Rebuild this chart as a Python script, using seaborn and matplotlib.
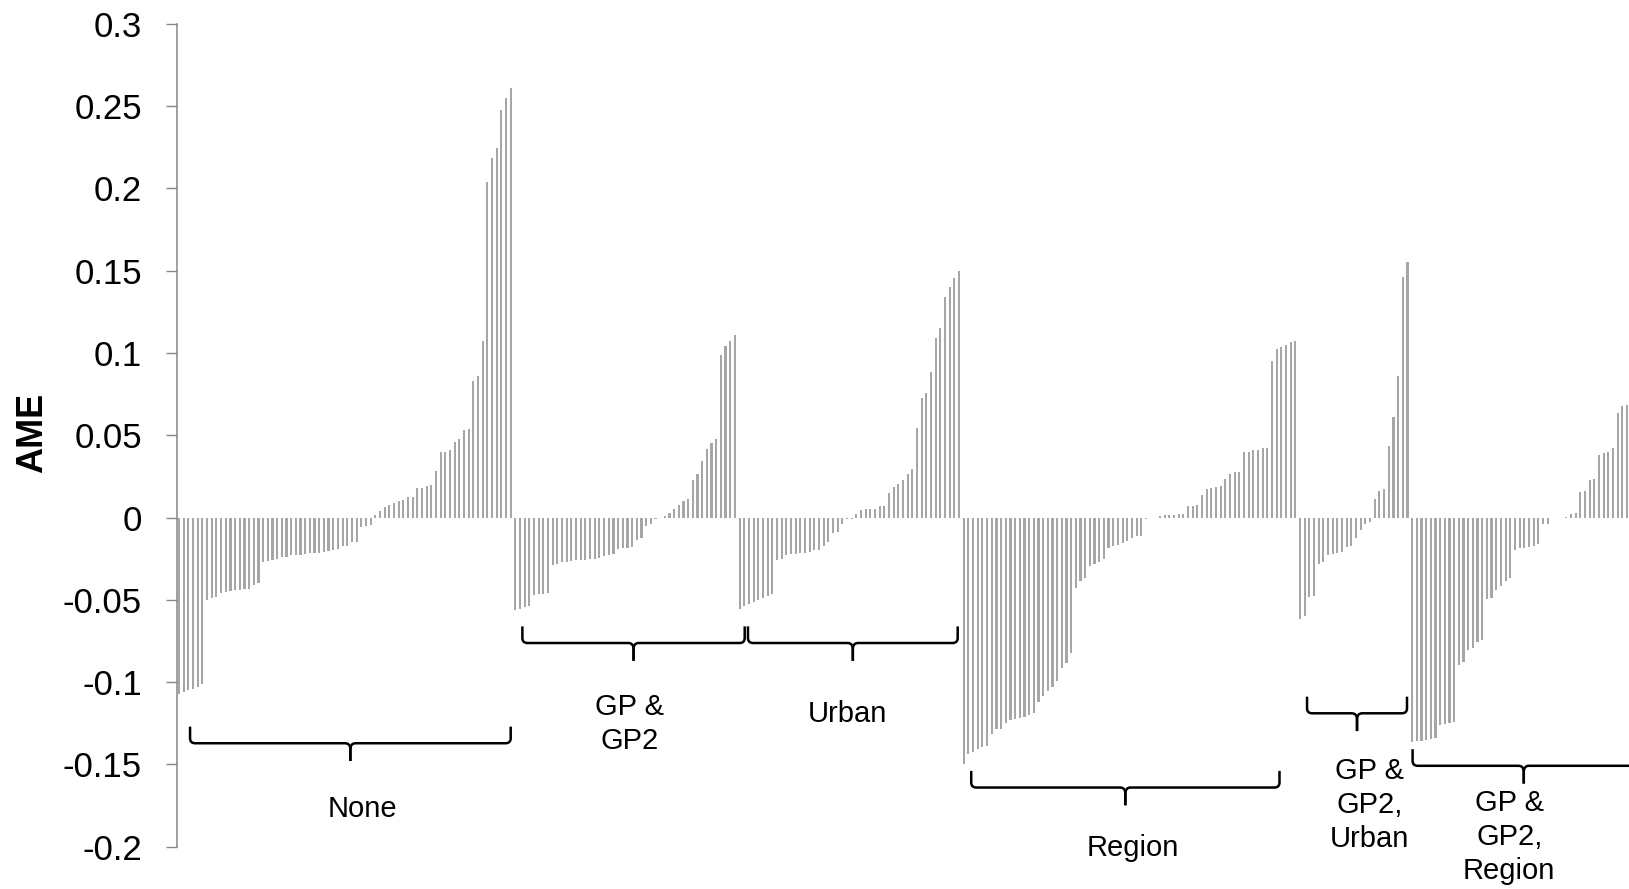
import numpy as np
import pandas as pd
import matplotlib
matplotlib.use("Agg")
import matplotlib.pyplot as plt
from matplotlib.path import Path
from matplotlib.patches import PathPatch
import seaborn as sns

# ---------------- data ----------------
group_names = ["None", "GP &\nGP2", "Urban", "Region", "GP &\nGP2,\nUrban", "GP &\nGP2,\nRegion"]

none_vals = [-0.107, -0.1057, -0.105, -0.104, -0.103, -0.101,
             -0.050, -0.049, -0.048, -0.046, -0.045, -0.0445, -0.044, -0.0437, -0.0435, -0.0433, -0.041, -0.040,
             -0.027, -0.0265, -0.026, -0.025, -0.024, -0.0238, -0.023, -0.0228, -0.0225, -0.022, -0.0218,
             -0.0216, -0.0214, -0.021, -0.020, -0.0196, -0.019,
             -0.017, -0.017, -0.0147, -0.0147, -0.006, -0.005, -0.0048,
             0.0017, 0.004, 0.0065, 0.0076, 0.009, 0.010, 0.0104, 0.0124, 0.0124, 0.018, 0.018, 0.019, 0.020,
             0.0286, 0.040, 0.040, 0.041, 0.046, 0.0475, 0.053, 0.054, 0.083, 0.086, 0.1075, 0.204, 0.2185,
             0.2246, 0.2476, 0.255, 0.261]

gp_vals = [-0.0563, -0.0557, -0.0543, -0.054, -0.047, -0.0466, -0.0462, -0.0458,
           -0.0288, -0.0284, -0.0271, -0.0267, -0.0263, -0.026, -0.0257, -0.0255, -0.0253, -0.025, -0.0243,
           -0.0235, -0.023, -0.022, -0.019, -0.0186, -0.0182, -0.0176, -0.0134, -0.0122, -0.0049, -0.0038,
           -0.001, -0.0004, 0.0012, 0.0026, 0.0053, 0.0077, 0.0099, 0.0113, 0.023, 0.0267, 0.0344, 0.0415,
           0.0456, 0.0478, 0.099, 0.104, 0.1075, 0.111]

urban_vals = [-0.0557, -0.0537, -0.0522, -0.051, -0.0502, -0.0486, -0.0476, -0.0466,
              -0.0255, -0.0251, -0.0227, -0.0223, -0.0219, -0.0215, -0.0213, -0.0209, -0.0198, -0.0194,
              -0.0172, -0.0148, -0.0091, -0.0087, -0.0036, -0.0006, -0.0006, 0.002, 0.0049, 0.0053, 0.0053,
              0.0053, 0.0069, 0.0071, 0.0148, 0.0186, 0.0207, 0.0231, 0.0267, 0.0294, 0.0543, 0.0725, 0.0755,
              0.0883, 0.1094, 0.1154, 0.134, 0.140, 0.1458, 0.150]

region_vals = [-0.1495, -0.1438, -0.1424, -0.1407, -0.1393, -0.1389, -0.1316, -0.1286, -0.1284, -0.1247,
               -0.1231, -0.1221, -0.1215, -0.1209, -0.1201, -0.1187, -0.112, -0.1083, -0.1053, -0.1027,
               -0.0992, -0.0911, -0.0881, -0.0822, -0.0429, -0.0385, -0.0365, -0.0294, -0.0279, -0.0271,
               -0.0251, -0.0186, -0.0172, -0.0166, -0.0156, -0.0142,
               -0.0125, -0.0112, -0.011, -0.001, -0.0004, -0.0002, 0.001, 0.0016, 0.0018, 0.0018, 0.002,
               0.0024, 0.0073, 0.0073, 0.0077, 0.0138, 0.0174, 0.0182, 0.0184, 0.0194, 0.0235, 0.0267,
               0.0275, 0.0279, 0.0401, 0.0401, 0.0413, 0.0413, 0.0421, 0.0425, 0.0952, 0.1025, 0.1039,
               0.1049, 0.1069, 0.1073]

gp_urban_vals = [-0.0614, -0.0599, -0.0482, -0.0474, -0.0279, -0.0267, -0.0227, -0.0223, -0.0213, -0.0207,
                 -0.0176, -0.0172, -0.0126, -0.0077, -0.004, -0.0026, 0.0111, 0.0162, 0.0172, 0.0437,
                 0.0612, 0.0859, 0.1462, 0.155]

gp_region_vals = [-0.1365, -0.136, -0.1355, -0.135, -0.1345, -0.134, -0.126, -0.1255, -0.125, -0.1243,
                  -0.0895, -0.0879, -0.0804, -0.079, -0.0753, -0.0743, -0.0494, -0.049, -0.044, -0.0413,
                  -0.0385, -0.0369, -0.0198, -0.0186, -0.0182, -0.0178, -0.0174, -0.0162, -0.0041, -0.0041,
                  -0.0004, -0.0002, -0.0001, 0.0004, 0.002, 0.003, 0.0158, 0.0162, 0.0227, 0.0235, 0.0381,
                  0.039, 0.040, 0.0425, 0.0634, 0.0676, 0.0684]

ytick_values = [0.3, 0.25, 0.2, 0.15, 0.1, 0.05, 0.0, -0.05, -0.1, -0.15, -0.2]
ytick_labels = ["0.3", "0.25", "0.2", "0.15", "0.1", "0.05", "0", "-0.05", "-0.1", "-0.15", "-0.2"]

# ---------------- annotation layout (bar-index units / AME units) ----------------
brace_start = [2.35, 73.5, 121.8, 169.6, 241.5, 264.1]
brace_end = [71.0, 121.1, 166.7, 235.6, 262.9, 311.7]
brace_y = [-0.1371, -0.0762, -0.0762, -0.164, -0.1189, -0.1508]
label_x = [39.3, 96.4, 143.1, 204.3, 254.9, 284.8]
label_y = [-0.1772, -0.1254, -0.1191, -0.2007, -0.1747, -0.1942]

# ---------------- build table ----------------
groups = [none_vals, gp_vals, urban_vals, region_vals, gp_urban_vals, gp_region_vals]
rows = []
for name, vals in zip(group_names, groups):
    for v in vals:
        rows.append((name, v))
df = pd.DataFrame(rows, columns=["group", "AME"])
df["pos"] = np.arange(len(df))
n = len(df)

sns.set_theme(style="white")
plt.rcParams["font.family"] = ["Liberation Sans", "DejaVu Sans"]

fig = plt.figure(figsize=(16.29, 8.89), dpi=100)
ax = fig.add_axes([0.1085, 0.0475, 0.8917, 0.9257])

sns.barplot(data=df, x="pos", y="AME", color="#A6A6A6", saturation=1, width=0.45,
            errorbar=None, linewidth=0, ax=ax)

ax.set_xlim(-0.5, n - 0.5)
ax.set_ylim(-0.2, 0.3)
ax.set_xticks([])
ax.set_xlabel("")
ax.set_ylabel("")
ax.set_yticks(ytick_values)
ax.set_yticklabels(ytick_labels, fontsize=25, color="black")
ax.tick_params(axis="y", direction="out", length=8, width=1.0, color="#868686", pad=17, left=True)
for s in ["top", "right", "bottom"]:
    ax.spines[s].set_visible(False)
ax.spines["left"].set_color("#868686")
ax.spines["left"].set_linewidth(1.1)
ax.grid(False)

fig.text(33 / 1629, 456 / 889, "AME", rotation=90, ha="center", va="center",
         fontsize=26, fontweight="bold", color="black")


def draw_brace(ax, x0, x1, y, rise=0.0101, drop=0.0108, r=1.1):
    xm = 0.5 * (x0 + x1)
    halves = [
        [(x0, y + rise), (x0, y + 0.3 * rise), (x0, y), (x0 + r, y), (xm - r, y), (xm, y),
         (xm, y - 0.35 * drop), (xm, y - drop)],
        [(x1, y + rise), (x1, y + 0.3 * rise), (x1, y), (x1 - r, y), (xm + r, y), (xm, y),
         (xm, y - 0.35 * drop), (xm, y - drop)],
    ]
    codes = [Path.MOVETO, Path.LINETO, Path.CURVE3, Path.CURVE3, Path.LINETO, Path.CURVE3,
             Path.CURVE3, Path.LINETO]
    for verts in halves:
        patch = PathPatch(Path(verts, codes), facecolor="none", edgecolor="black",
                          linewidth=1.8, capstyle="butt", joinstyle="round")
        ax.add_patch(patch)


for i, name in enumerate(group_names):
    draw_brace(ax, brace_start[i], brace_end[i], brace_y[i])
    ax.text(label_x[i], label_y[i], name, ha="center", va="center", multialignment="center",
            fontsize=21, linespacing=1.28, color="black", clip_on=False)

fig.savefig("out.png", dpi=100)
